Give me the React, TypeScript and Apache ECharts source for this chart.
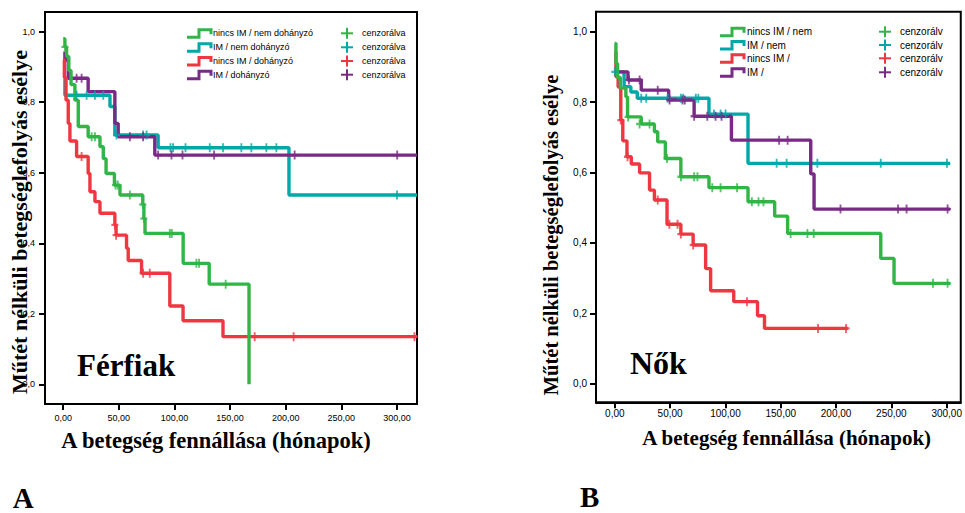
import React, { useEffect, useRef } from "react";
import * as echarts from "echarts";

// ---------- tick values ----------
const xTicks = [0, 50, 100, 150, 200, 250, 300];
const yTicks = [0, 0.2, 0.4, 0.6, 0.8, 1.0];

// ---------- legend labels ----------
const menLegend = ["nincs IM / nem dohányzó", "IM / nem dohányzó", "nincs IM / dohányzó", "IM / dohányzó"];
const menCensorLabel = "cenzorálva";
const womenLegend = ["nincs IM / nem", "IM / nem", "nincs IM /", "IM /"];
const womenCensorLabel = "cenzorálv";

// ---------- Férfiak (A) : [months, survival] ----------
const menGreen = [[0, 0.98], [1.5, 0.957], [3, 0.93], [5, 0.89], [7, 0.85], [10.5, 0.806], [13.5, 0.731], [22.4, 0.702], [33, 0.674], [36, 0.64], [38.5, 0.598], [46, 0.565], [51, 0.537], [71.5, 0.51], [72.5, 0.47], [73.5, 0.428], [107.8, 0.343], [131.2, 0.284], [167, 0.0]];
const menGreenCens = [[1.5, 0.957], [25.5, 0.702], [28.5, 0.702], [47, 0.565], [49, 0.565], [59.9, 0.537], [71.5, 0.51], [72.5, 0.47], [95.8, 0.428], [97.6, 0.428], [119.7, 0.343], [122.1, 0.343], [146, 0.284]];
const menTeal = [[0, 0.863], [1.5, 0.82], [42, 0.788], [46.4, 0.707], [85.3, 0.671], [202.9, 0.537], [318, 0.537]];
const menTealCens = [[12, 0.82], [21, 0.82], [28.5, 0.82], [36, 0.82], [47.9, 0.707], [71.8, 0.707], [74.9, 0.707], [96.4, 0.671], [98.7, 0.671], [109.9, 0.671], [131.7, 0.671], [143.6, 0.671], [160.1, 0.671], [169.1, 0.671], [182.6, 0.671], [191.6, 0.671], [300, 0.537]];
const menRed = [[0, 0.92], [1, 0.87], [2.5, 0.806], [4.5, 0.74], [6, 0.69], [12, 0.646], [22.4, 0.598], [24, 0.546], [28.5, 0.518], [33, 0.485], [46.4, 0.452], [47.5, 0.423], [56.9, 0.386], [58.4, 0.351], [70.4, 0.315], [95.8, 0.222], [107.7, 0.18], [143.6, 0.135], [318, 0.135]];
const menRedCens = [[16.5, 0.646], [46.4, 0.452], [47.5, 0.423], [71.8, 0.315], [77.8, 0.315], [172.1, 0.135], [207.1, 0.135], [315.7, 0.135]];
const menPurple = [[0, 0.939], [1.5, 0.92], [4.5, 0.868], [22.4, 0.83], [46.4, 0.74], [49.4, 0.702], [82.3, 0.65], [318, 0.65]];
const menPurpleCens = [[12, 0.868], [16.5, 0.868], [59.9, 0.702], [71.8, 0.702], [85.3, 0.65], [97.3, 0.65], [107.2, 0.65], [135.6, 0.65], [208, 0.65], [300.2, 0.65]];

// ---------- Nők (B) ----------
const womenGreen = [[0, 0.967], [1, 0.91], [2.5, 0.87], [5, 0.84], [10, 0.815], [11.5, 0.758], [23.9, 0.738], [35.8, 0.716], [38.8, 0.687], [45.7, 0.64], [59.7, 0.588], [85.1, 0.557], [120.4, 0.517], [144.5, 0.476], [156.2, 0.427], [240.4, 0.356], [252.4, 0.285], [303, 0.285]];
const womenGreenCens = [[12, 0.758], [22.4, 0.738], [31.4, 0.738], [47.2, 0.64], [59.7, 0.588], [71.7, 0.588], [74.7, 0.588], [88.1, 0.557], [95.6, 0.557], [110.5, 0.557], [123.9, 0.517], [129.9, 0.517], [134.4, 0.517], [158.9, 0.427], [174.1, 0.427], [179.8, 0.427], [287.6, 0.285], [300.8, 0.285]];
const womenTeal = [[0, 0.886], [8.4, 0.844], [14.5, 0.829], [20.3, 0.811], [85.1, 0.766], [120.4, 0.626], [303, 0.626]];
const womenTealCens = [[0, 0.886], [23.9, 0.811], [28.4, 0.811], [47.8, 0.811], [59.7, 0.811], [61.8, 0.811], [73.2, 0.811], [75.5, 0.811], [89.6, 0.766], [95.6, 0.766], [100.1, 0.766], [146.3, 0.626], [155.3, 0.626], [183.1, 0.626], [240.4, 0.626], [300.2, 0.626]];
const womenRed = [[0, 0.943], [1, 0.872], [3, 0.843], [5.4, 0.749], [7.2, 0.69], [11, 0.645], [14.9, 0.624], [22.4, 0.599], [31.4, 0.55], [35.8, 0.522], [47.2, 0.453], [59.7, 0.425], [70.8, 0.394], [82.1, 0.327], [86.6, 0.264], [107.5, 0.233], [129, 0.193], [135.3, 0.157], [210.6, 0.157]];
const womenRedCens = [[5.4, 0.749], [11.5, 0.645], [38.8, 0.522], [49.3, 0.453], [56.7, 0.453], [59.7, 0.425], [70.8, 0.394], [119.5, 0.233], [183.7, 0.157], [209, 0.157]];
const womenPurple = [[0, 0.886], [11.9, 0.863], [23.9, 0.834], [48.7, 0.806], [71.7, 0.76], [105.4, 0.692], [177.1, 0.596], [180.1, 0.496], [303, 0.496]];
const womenPurpleCens = [[12.8, 0.863], [22.4, 0.863], [38.8, 0.834], [49.5, 0.806], [61.2, 0.806], [63.3, 0.806], [71.7, 0.76], [83.6, 0.76], [91.1, 0.76], [96.5, 0.76], [148.5, 0.692], [156.2, 0.692], [204, 0.496], [256, 0.496], [263.7, 0.496], [300.8, 0.496]];

const GREEN = "#30b546";
const TEAL = "#00a8a8";
const RED = "#ef3742";
const PURPLE = "#782a84";
const COLORS = [GREEN, TEAL, RED, PURPLE];

const PLUS = "path://M3.3,0H5.7V3.3H9V5.7H5.7V9H3.3V5.7H0V3.3H3.3Z";
const SANS = "'Liberation Sans', Arial, sans-serif";
const SERIF = "'Liberation Serif', 'Times New Roman', serif";

function lineSeries(data: number[][], color: string, gi: number) {
  return {
    type: "line",
    xAxisIndex: gi,
    yAxisIndex: gi,
    data,
    step: "end",
    showSymbol: false,
    symbol: "none",
    silent: true,
    lineStyle: { color, width: 3.4 },
    z: 3,
  };
}
function censSeries(data: number[][], color: string, gi: number) {
  return {
    type: "scatter",
    xAxisIndex: gi,
    yAxisIndex: gi,
    data,
    symbol: PLUS,
    symbolSize: [7, 9],
    silent: true,
    itemStyle: { color },
    z: 4,
  };
}

function axisPair(gi: number, xmin: number, xmax: number, ymin: number, ymax: number, fs: number, xMargin: number, yMargin: number) {
  const common = {
    gridIndex: gi,
    type: "value",
    splitLine: { show: false },
    axisLine: { show: true, onZero: false, lineStyle: { color: "#000", width: 2 } },
    axisTick: { show: true, inside: false, length: 6, lineStyle: { color: "#000", width: 2 } },
  };
  const x = {
    ...common,
    min: xmin,
    max: xmax,
    axisTick: { ...common.axisTick, customValues: xTicks },
    axisLabel: {
      customValues: xTicks,
      fontSize: fs,
      fontFamily: SANS,
      color: "#000",
      margin: xMargin,
      formatter: (v: number) => v.toFixed(2).replace(".", ","),
    },
  };
  const y = {
    ...common,
    min: ymin,
    max: ymax,
    axisTick: { ...common.axisTick, customValues: yTicks },
    axisLabel: {
      customValues: yTicks,
      fontSize: fs,
      fontFamily: SANS,
      color: "#000",
      margin: yMargin,
      formatter: (v: number) => v.toFixed(1).replace(".", ","),
    },
  };
  return { x, y };
}

function legendGraphics(x0: number, rows: number[], labels: string[], textX: number, plusX: number, censText: string, censX: number, fs: number) {
  const els: any[] = [];
  rows.forEach((ry, i) => {
    els.push({
      type: "polyline",
      silent: true,
      shape: { points: [[x0, ry + 4], [x0 + 12, ry + 4], [x0 + 12, ry - 3.5], [x0 + 24, ry - 3.5], [x0 + 24, ry + 1]] },
      style: { stroke: COLORS[i], lineWidth: 3, fill: null },
    });
    els.push({
      type: "text",
      silent: true,
      x: textX,
      y: ry,
      style: { text: labels[i], fontSize: fs, fontFamily: SANS, fill: "#000", align: "left", verticalAlign: "middle", textAlign: "left", textVerticalAlign: "middle" },
    });
    els.push({ type: "rect", silent: true, shape: { x: plusX - 1, y: ry - 5.5, width: 2, height: 11 }, style: { fill: COLORS[i] } });
    els.push({ type: "rect", silent: true, shape: { x: plusX - 6, y: ry - 1, width: 12, height: 2 }, style: { fill: COLORS[i] } });
    els.push({
      type: "text",
      silent: true,
      x: censX,
      y: ry,
      style: { text: censText, fontSize: fs, fontFamily: SANS, fill: "#000", align: "left", verticalAlign: "middle", textAlign: "left", textVerticalAlign: "middle" },
    });
  });
  return els;
}

function bigText(text: string, x: number, y: number, fs: number, align: string, rotation = 0, lineHeight?: number) {
  return {
    type: "text",
    silent: true,
    x,
    y,
    rotation,
    style: { text, fontSize: fs, fontFamily: SERIF, fontWeight: "bold", fill: "#000", align, verticalAlign: "middle", textAlign: align, textVerticalAlign: "middle", lineHeight: lineHeight ?? fs },
  };
}

export default function App() {
  const ref = useRef<HTMLDivElement>(null);
  useEffect(() => {
    if (!ref.current) return;
    const chart = echarts.init(ref.current, undefined, { renderer: "svg" });
    const a0 = axisPair(0, -16.4, 318, -0.056, 1.056, 9, 9, 10);
    const a1 = axisPair(1, -17, 312.7, -0.053, 1.057, 10, 6, 9);
    const yTitle = "Műtét nélküli betegséglefolyás esélye";
    const xTitle = "A betegség fennállása (hónapok)";
    chart.setOption({
      animation: false,
      backgroundColor: "#fff",
      grid: [
        { left: 45, top: 12, width: 372, height: 392, show: true, borderColor: "#000", borderWidth: 2, backgroundColor: "transparent" },
        { left: 596, top: 11.7, width: 368, height: 390.6, show: true, borderColor: "#000", borderWidth: 2, backgroundColor: "transparent" },
      ],
      xAxis: [a0.x, a1.x],
      yAxis: [a0.y, a1.y],
      series: [
        lineSeries(menTeal, TEAL, 0),
        lineSeries(menPurple, PURPLE, 0),
        lineSeries(menRed, RED, 0),
        lineSeries(menGreen, GREEN, 0),
        censSeries(menTealCens, TEAL, 0),
        censSeries(menPurpleCens, PURPLE, 0),
        censSeries(menRedCens, RED, 0),
        censSeries(menGreenCens, GREEN, 0),
        lineSeries(womenTeal, TEAL, 1),
        lineSeries(womenPurple, PURPLE, 1),
        lineSeries(womenRed, RED, 1),
        lineSeries(womenGreen, GREEN, 1),
        censSeries(womenTealCens, TEAL, 1),
        censSeries(womenPurpleCens, PURPLE, 1),
        censSeries(womenRedCens, RED, 1),
        censSeries(womenGreenCens, GREEN, 1),
      ],
      graphic: [
        ...legendGraphics(187, [33.3, 47.3, 61, 74.7], menLegend, 213, 347, menCensorLabel, 362, 9),
        ...legendGraphics(720, [31.7, 45, 58.3, 72.3], womenLegend, 747, 885, womenCensorLabel, 900, 10),
        bigText(yTitle, 19, 222, 22, "center", Math.PI / 2),
        bigText(yTitle, 551, 235, 20.5, "center", Math.PI / 2),
        bigText(xTitle, 216, 440.8, 22.5, "center"),
        bigText(xTitle, 786.7, 437.5, 21, "center"),
        bigText("Férfiak", 77, 365, 31, "left"),
        bigText("Nők", 630, 362.5, 32, "left"),
        bigText("A", 12.7, 498, 29, "left", 0, 26),
        bigText("B", 580, 497, 29, "left", 0, 26),
      ],
    });
    return () => chart.dispose();
  }, []);
  return <div ref={ref} style={{ position: "fixed", left: 0, top: 0, width: 965, height: 513, background: "#fff" }} />;
}
